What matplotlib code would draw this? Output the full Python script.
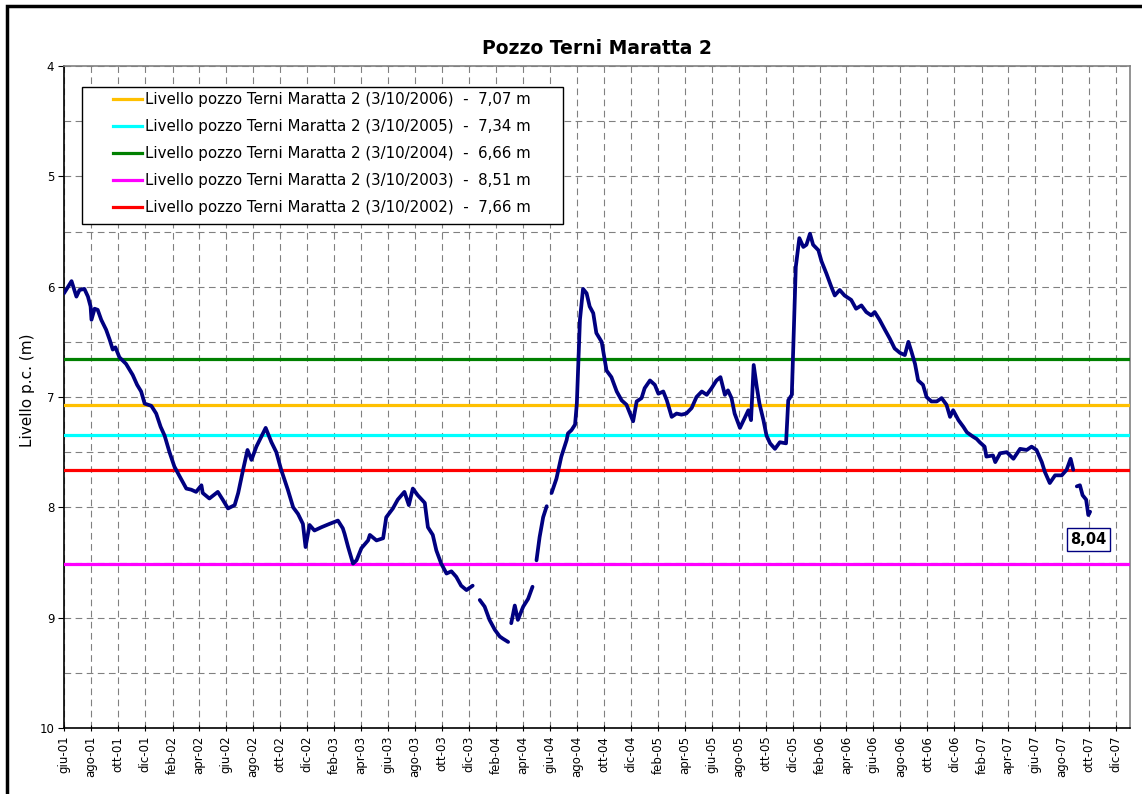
import numpy as np
import pandas as pd
import matplotlib
matplotlib.use('Agg')
import matplotlib.pyplot as plt
from matplotlib.patches import Rectangle
from matplotlib.ticker import MultipleLocator, FixedLocator, FixedFormatter

# Livello del pozzo (m dal piano campagna)
dates = [
    '2001-06-01', '2001-06-18', '2001-06-29', '2001-07-06', '2001-07-17', '2001-07-25',
    '2001-07-31', '2001-08-02', '2001-08-09', '2001-08-16', '2001-08-24', '2001-09-04',
    '2001-09-12', '2001-09-19', '2001-09-25', '2001-10-04', '2001-10-19', '2001-11-03',
    '2001-11-13', '2001-11-22', '2001-11-30', '2001-12-15', '2001-12-26', '2002-01-05',
    '2002-01-14', '2002-01-25', '2002-02-05', '2002-02-17', '2002-03-04', '2002-03-15',
    '2002-03-26', '2002-04-07', '2002-04-10', '2002-04-25', '2002-05-14', '2002-05-25',
    '2002-06-06', '2002-06-21', '2002-06-29', '2002-07-10', '2002-07-20', '2002-07-29',
    '2002-08-09', '2002-08-30', '2002-09-12', '2002-09-23', '2002-10-04', '2002-10-19',
    '2002-10-31', '2002-11-11', '2002-11-22', '2002-11-28', '2002-12-07', '2002-12-18',
    '2003-01-03', '2003-01-21', '2003-02-09', '2003-02-20', '2003-02-24', '2003-03-04',
    '2003-03-15', '2003-03-23', '2003-04-03', '2003-04-18', '2003-04-22', '2003-05-07',
    '2003-05-22', '2003-05-29', '2003-06-13', '2003-06-24', '2003-07-09', '2003-07-19',
    '2003-07-28', '2003-08-08', '2003-08-24', '2003-08-31', '2003-09-11', '2003-09-19',
    '2003-09-30', '2003-10-12', '2003-10-23', '2003-11-03', '2003-11-14', '2003-11-26',
    '2003-12-10', '2003-12-18', '2003-12-26', '2004-01-06', '2004-01-17', '2004-01-29',
    '2004-02-09', '2004-02-16', '2004-02-28', '2004-03-02', '2004-03-06', '2004-03-14',
    '2004-03-21', '2004-04-02', '2004-04-13', '2004-04-23', '2004-04-27', '2004-05-02',
    '2004-05-09', '2004-05-17', '2004-05-25', '2004-05-30', '2004-06-05', '2004-06-16',
    '2004-06-27', '2004-07-09', '2004-07-12', '2004-07-20', '2004-07-28', '2004-08-01',
    '2004-08-08', '2004-08-15', '2004-08-23', '2004-08-30', '2004-09-07', '2004-09-14',
    '2004-09-26', '2004-10-07', '2004-10-18', '2004-10-30', '2004-11-10', '2004-11-21',
    '2004-12-06', '2004-12-14', '2004-12-25', '2005-01-01', '2005-01-13', '2005-01-24',
    '2005-02-01', '2005-02-12', '2005-02-20', '2005-03-03', '2005-03-14', '2005-03-25',
    '2005-04-05', '2005-04-17', '2005-04-28', '2005-05-10', '2005-05-21', '2005-06-01',
    '2005-06-12', '2005-06-21', '2005-07-01', '2005-07-08', '2005-07-16', '2005-07-23',
    '2005-08-04', '2005-08-16', '2005-08-23', '2005-08-29', '2005-09-04', '2005-09-11',
    '2005-09-17', '2005-09-26', '2005-10-03', '2005-10-11', '2005-10-22', '2005-11-02',
    '2005-11-16', '2005-11-21', '2005-11-29', '2005-12-02', '2005-12-08', '2005-12-16',
    '2005-12-25', '2006-01-01', '2006-01-09', '2006-01-16', '2006-01-28', '2006-02-04',
    '2006-02-15', '2006-02-26', '2006-03-06', '2006-03-17', '2006-03-28', '2006-04-12',
    '2006-04-23', '2006-05-05', '2006-05-16', '2006-05-27', '2006-06-04', '2006-06-15',
    '2006-06-27', '2006-07-08', '2006-07-19', '2006-07-31', '2006-08-11', '2006-08-19',
    '2006-08-26', '2006-09-03', '2006-09-10', '2006-09-21', '2006-09-29', '2006-10-10',
    '2006-10-22', '2006-11-02', '2006-11-13', '2006-11-21', '2006-11-28', '2006-12-10',
    '2006-12-21', '2006-12-29', '2007-01-12', '2007-01-20', '2007-01-27', '2007-02-07',
    '2007-02-11', '2007-02-26', '2007-03-03', '2007-03-14', '2007-03-29', '2007-04-13',
    '2007-04-28', '2007-05-13', '2007-05-24', '2007-06-04', '2007-06-16', '2007-06-23',
    '2007-07-04', '2007-07-16', '2007-07-31', '2007-08-11', '2007-08-20', '2007-08-26',
    '2007-08-30', '2007-09-03', '2007-09-10', '2007-09-16', '2007-09-24', '2007-09-29',
    '2007-10-03',
]
nan = np.nan
levels = [
    6.06, 5.95, 6.09, 6.03, 6.02, 6.09,
    6.18, 6.30, 6.20, 6.21, 6.30, 6.39,
    6.48, 6.57, 6.55, 6.64, 6.70, 6.80,
    6.89, 6.95, 7.06, 7.08, 7.15, 7.27,
    7.35, 7.50, 7.63, 7.72, 7.83, 7.84,
    7.86, 7.80, 7.87, 7.92, 7.86, 7.93,
    8.01, 7.98, 7.87, 7.66, 7.48, 7.57,
    7.45, 7.28, 7.41, 7.50, 7.66, 7.84,
    8.00, 8.06, 8.15, 8.36, 8.16, 8.21,
    8.18, 8.15, 8.12, 8.19, 8.24, 8.36,
    8.51, 8.48, 8.37, 8.30, 8.25, 8.30,
    8.28, 8.09, 8.01, 7.93, 7.86, 7.98,
    7.83, 7.89, 7.96, 8.18, 8.25, 8.39,
    8.51, 8.60, 8.58, 8.63, 8.71, 8.75,
    8.71, nan, 8.84, 8.90, 9.02, 9.11,
    9.17, 9.19, 9.22, nan, 9.05, 8.89,
    9.02, 8.90, 8.83, 8.72, nan, 8.48,
    8.27, 8.09, 7.99, nan, 7.87, 7.74,
    7.54, 7.39, 7.33, 7.30, 7.25, 7.06,
    6.30, 6.02, 6.06, 6.18, 6.24, 6.42,
    6.50, 6.76, 6.82, 6.95, 7.03, 7.07,
    7.22, 7.04, 7.01, 6.92, 6.85, 6.89,
    6.97, 6.95, 7.03, 7.18, 7.15, 7.16,
    7.15, 7.10, 7.00, 6.95, 6.98, 6.92,
    6.85, 6.82, 6.98, 6.94, 7.01, 7.15,
    7.28, 7.18, 7.12, 7.21, 6.71, 6.91,
    7.06, 7.21, 7.35, 7.42, 7.47, 7.41,
    7.42, 7.03, 6.98, 6.60, 5.82, 5.56,
    5.64, 5.62, 5.52, 5.62, 5.67, 5.77,
    5.88, 6.00, 6.08, 6.03, 6.08, 6.12,
    6.20, 6.17, 6.23, 6.26, 6.23, 6.30,
    6.39, 6.47, 6.56, 6.60, 6.62, 6.50,
    6.59, 6.70, 6.85, 6.89, 7.00, 7.04,
    7.04, 7.01, 7.07, 7.18, 7.12, 7.21,
    7.27, 7.32, 7.36, 7.38, 7.41, 7.45,
    7.54, 7.53, 7.59, 7.51, 7.50, 7.56,
    7.47, 7.48, 7.45, 7.48, 7.59, 7.68,
    7.78, 7.71, 7.71, 7.66, 7.56, 7.66,
    nan, 7.81, 7.80, 7.89, 7.93, 8.07,
    8.04,
]

# livelli di riferimento al 3 ottobre degli anni precedenti
ref_years = ['2006', '2005', '2004', '2003', '2002']
ref_levels = [7.07, 7.34, 6.66, 8.51, 7.66]
ref_colors = ['#FFC000', '#00FFFF', '#008000', '#FF00FF', '#FF0000']

mesi = ['gen', 'feb', 'mar', 'apr', 'mag', 'giu', 'lug', 'ago', 'set', 'ott', 'nov', 'dic']
tick_dates = pd.date_range('2001-06-01', '2007-12-01', freq='2MS')
tick_labels = [f"{mesi[d.month - 1]}-{d.strftime('%y')}" for d in tick_dates]

W, H = 1142, 794
fig = plt.figure(figsize=(W / 100, H / 100), dpi=100)
ax = fig.add_axes([64 / W, 66 / H, 1066 / W, 662 / H])

x = pd.to_datetime(dates)
y = np.array(levels)

handles = []
for yr, lev, col in zip(ref_years, ref_levels, ref_colors):
    lab = f"Livello pozzo Terni Maratta 2 (3/10/{yr})  -  {lev:.2f}".replace('.', ',') + " m"
    h = ax.axhline(lev, color=col, lw=2.3, zorder=3, label=lab)
    handles.append(h)

ax.plot(x, y, color='#000080', lw=2.7, zorder=4, solid_capstyle='round')

# valore dell'ultima misura
ax.annotate(f"{y[-1]:.2f}".replace('.', ','), xy=(x[-1], y[-1]), xytext=(-1, -20),
            textcoords='offset points', ha='center', va='center',
            fontsize=10.5, fontweight='bold', zorder=6,
            bbox=dict(boxstyle='square,pad=0.25', fc='white', ec='#000080', lw=1))

ax.set_xlim(pd.Timestamp('2001-06-01'), pd.Timestamp('2008-01-01'))
ax.set_ylim(10, 4)
ax.yaxis.set_major_locator(MultipleLocator(1))
ax.yaxis.set_minor_locator(MultipleLocator(0.5))
ax.xaxis.set_major_locator(FixedLocator(matplotlib.dates.date2num(tick_dates)))
ax.xaxis.set_major_formatter(FixedFormatter(tick_labels))

ax.grid(True, which='both', axis='y', color='#808080', ls=(0, (6, 4)), lw=0.8)
ax.grid(True, which='major', axis='x', color='#808080', ls=(0, (6, 4)), lw=0.8)
ax.set_axisbelow(True)

ax.tick_params(axis='x', labelsize=8.5, rotation=90, direction='inout', length=5, pad=3)
ax.tick_params(axis='y', labelsize=8.5, direction='out', length=4, pad=3)
ax.tick_params(axis='y', which='minor', length=0)

for s in ['left', 'bottom']:
    ax.spines[s].set_color('black')
    ax.spines[s].set_linewidth(1.2)
for s in ['top', 'right']:
    ax.spines[s].set_color('#808080')
    ax.spines[s].set_linewidth(1.2)

ax.set_ylabel('Livello p.c. (m)', fontsize=11)
ax.yaxis.set_label_coords(-0.027, 0.51)

fig.text(597 / W, 1 - 48 / H, 'Pozzo Terni Maratta 2', ha='center', va='center',
         fontsize=13.5, fontweight='bold')

# legenda con riquadro
ax.add_patch(Rectangle((82 / W, 1 - 224 / H), 481 / W, 137 / H, transform=fig.transFigure,
                       fc='white', ec='black', lw=1, zorder=7, clip_on=False))
leg = ax.legend(handles=handles, loc='upper left', bbox_to_anchor=(113 / W, 1 - 92 / H),
                bbox_transform=fig.transFigure, frameon=False, borderpad=0, borderaxespad=0,
                handlelength=1.95, handletextpad=0.2, labelspacing=0.8, fontsize=10.8)
leg.set_zorder(8)

# bordo dell'area del grafico
fig.add_artist(Rectangle((7 / W, -0.1), 1.2, 1 - 6 / H + 0.1, transform=fig.transFigure,
                         fill=False, ec='black', lw=2.5, clip_on=False))

fig.savefig('out.png', dpi=100)
